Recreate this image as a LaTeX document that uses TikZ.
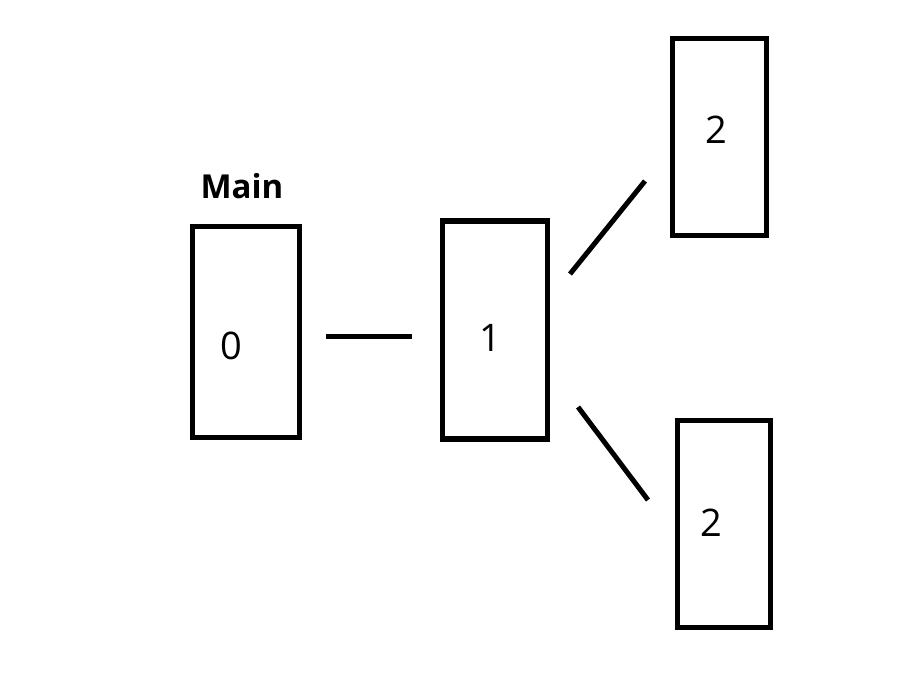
\documentclass[tikz,border=0pt]{standalone}
\usepackage{fontspec}
\setmainfont{Open Sans}
\usetikzlibrary{positioning}

\tikzset{
  frame/.style={draw, line width=5.5pt, inner sep=0pt},
  digit/.style={font=\fontsize{38}{40}\selectfont, inner sep=0pt},
  link/.style={line width=5pt}
}

\begin{document}
\begin{tikzpicture}[x=1pt, y=-1pt]
  \useasboundingbox (0,0) rectangle (919,689);
  % boxes
  \node[frame, minimum width=107pt, minimum height=211pt] (main) at (246,332) {};
  \node[frame, minimum width=105pt, minimum height=218pt] (one) at (495,330) {};
  \node[frame, minimum width=94pt, minimum height=197pt] (twoa) at (719.5,137) {};
  \node[frame, minimum width=93pt, minimum height=207pt] (twob) at (724,524) {};
  % numbers
  \node[digit] (n0) at (231,346) {0};
  \node[digit] (n1) at (490,338) {1};
  \node[digit] (n2a) at (716,130) {2};
  \node[digit] (n2b) at (711,523) {2};
  \node[font=\fontsize{33}{36}\selectfont\bfseries, inner sep=0pt] (title) at (242,186) {Main};
  % free ends of the lines
  \coordinate (a0) at (326,336);
  \coordinate (a1) at (412,336);
  \coordinate (b0) at (570,274);
  \coordinate (b1) at (645,181);
  \coordinate (c0) at (578,407);
  \coordinate (c1) at (648,500);
  \draw[link] (a0) -- (a1);
  \draw[link] (b0) -- (b1);
  \draw[link] (c0) -- (c1);
\end{tikzpicture}
\end{document}
